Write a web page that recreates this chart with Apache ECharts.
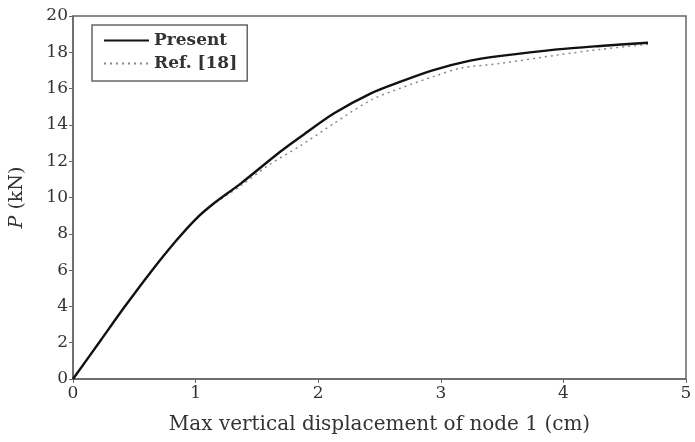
<!DOCTYPE html>
<html>
<head>
<meta charset="utf-8">
<script src="https://cdn.jsdelivr.net/npm/echarts@6/dist/echarts.min.js"></script>
<style>
	html, body { margin: 0; padding: 0; background: #fff; }
	#chart { width: 695px; height: 442px; }
</style>
</head>
<body>
<div id="chart"></div>
<script type="text/javascript">
	// displacement (cm) / load (kN)
	var presentX = [0, 0.228, 0.418, 0.635, 0.839, 1.0, 1.15, 1.37, 1.69, 1.857, 2.13, 2.43, 2.67, 2.94, 3.24, 3.49, 3.95, 4.3, 4.69];
	var presentY = [0, 2.15, 3.95, 5.9, 7.6, 8.8, 9.68, 10.78, 12.52, 13.35, 14.64, 15.74, 16.38, 17.02, 17.54, 17.8, 18.16, 18.35, 18.53];
	var refX = [0, 0.228, 0.418, 0.635, 0.839, 1.0, 1.15, 1.37, 1.6, 1.857, 2.13, 2.43, 2.67, 2.94, 3.16, 3.49, 3.95, 4.3, 4.69];
	var refY = [0, 2.15, 3.95, 5.9, 7.6, 8.8, 9.65, 10.65, 11.8, 12.86, 14.09, 15.37, 16.02, 16.66, 17.12, 17.39, 17.85, 18.16, 18.44];

	function pairs(xs, ys) {
		var out = [];
		for (var i = 0; i < xs.length; i++) {
			out.push([xs[i], ys[i]]);
		}
		return out;
	}

	var font = 'DejaVu Serif';
	var axisColor = '#666';
	var textColor = '#333';

	var chart = echarts.init(document.getElementById('chart'));
	var option = {
		animation: false,
		backgroundColor: '#fff',
		textStyle: { fontFamily: font },
		grid: {
			left: 72, right: 9, top: 16, bottom: 63,
			show: true,
			borderColor: axisColor,
			borderWidth: 1.5
		},
		legend: {
			left: 92,
			top: 25,
			orient: 'vertical',
			itemWidth: 45,
			itemHeight: 14,
			itemGap: 6,
			padding: [7, 10, 9, 11],
			borderColor: axisColor,
			borderWidth: 1.5,
			itemStyle: { opacity: 0 },
			textStyle: { fontFamily: font, fontSize: 17, color: textColor, fontWeight: 'bold' },
			data: ['Present', 'Ref. [18]']
		},
		xAxis: {
			type: 'value',
			min: 0, max: 5, interval: 1,
			name: 'Max vertical displacement of node 1 (cm)',
			nameLocation: 'middle',
			nameGap: 36,
			nameTextStyle: { fontFamily: font, fontSize: 20, color: textColor },
			axisLine: { lineStyle: { color: axisColor, width: 1.5 } },
			axisTick: { length: 4, lineStyle: { color: axisColor } },
			axisLabel: { fontFamily: font, fontSize: 17, color: textColor, margin: 6 },
			splitLine: { show: false }
		},
		yAxis: {
			type: 'value',
			min: 0, max: 20, interval: 2,
			name: '{i|P} (kN)',
			nameLocation: 'middle',
			nameGap: 46,
			nameRotate: 90,
			nameTextStyle: {
				fontFamily: font, fontSize: 19, color: textColor,
				rich: { i: { fontFamily: font, fontSize: 19, fontStyle: 'italic', color: textColor } }
			},
			axisLine: { lineStyle: { color: axisColor, width: 1.5 } },
			axisTick: { length: 4, lineStyle: { color: axisColor } },
			axisLabel: { fontFamily: font, fontSize: 17, color: textColor, margin: 5 },
			splitLine: { show: false }
		},
		series: [
			{
				name: 'Ref. [18]',
				type: 'line',
				symbol: 'none',
				smooth: 0.3,
				lineStyle: { color: '#888', width: 1.5, type: [2, 4] },
				itemStyle: { color: '#888' },
				data: pairs(refX, refY)
			},
			{
				name: 'Present',
				type: 'line',
				symbol: 'none',
				smooth: 0.3,
				lineStyle: { color: '#111', width: 2.4 },
				itemStyle: { color: '#111' },
				data: pairs(presentX, presentY)
			}
		]
	};
	chart.setOption(option);
</script>
</body>
</html>
